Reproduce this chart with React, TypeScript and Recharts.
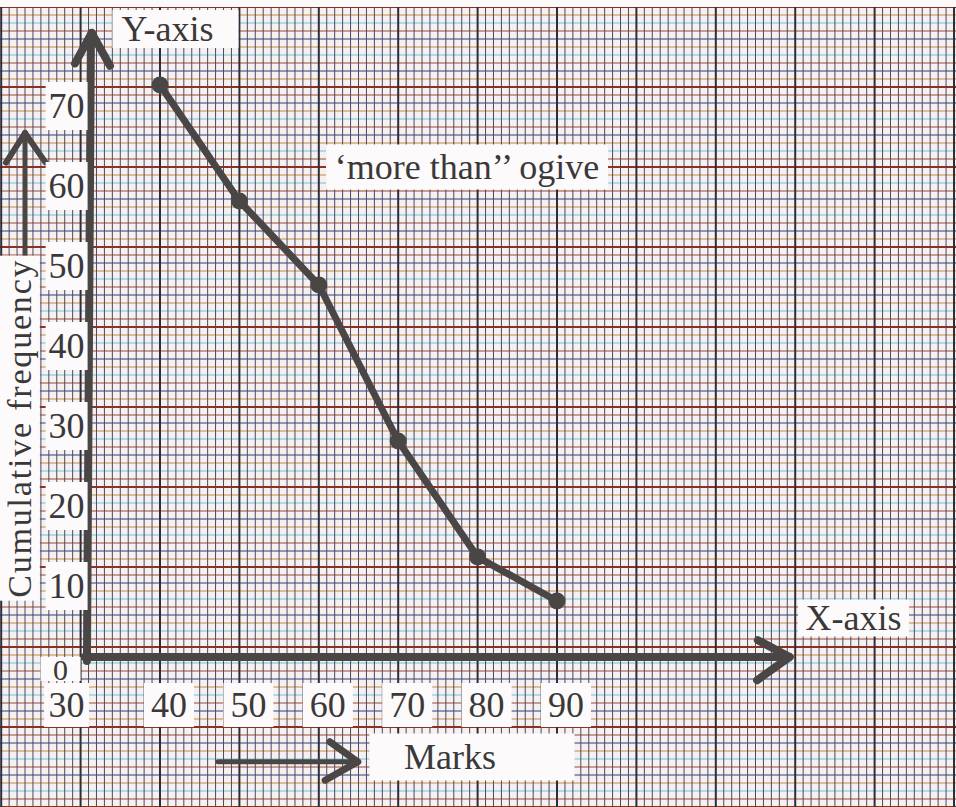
import React from "react";
import {
  LineChart, Line, XAxis, YAxis, CartesianGrid,
  ReferenceLine, ReferenceDot, ReferenceArea,
} from "recharts";

// "more than" ogive: marks (lower limit) vs cumulative frequency
const marks = [40, 50, 60, 70, 80, 90];
const cumFreq = [71.5, 57, 46.5, 27, 12.5, 7];
const xTickLabels = [30, 40, 50, 60, 70, 80, 90];
const yTickLabels = [10, 20, 30, 40, 50, 60, 70];

const data = marks.map((m, i) => ({ m, cf: cumFreq[i] }));

const W = 956;
const H = 807;
const X_DOMAIN: [number, number] = [19.85, 140.25];
const Y_DOMAIN: [number, number] = [-18.75, 82.125];
const PAPER_DOMAIN: [number, number] = [0, 100.875];

const FONT = "'Liberation Serif', 'DejaVu Serif', serif";
const INK = "#3a3838";
const PEN = "#4a4646";
const BOX = "#fcfafa";

const range = (a: number, b: number, step = 1) => {
  const out: number[] = [];
  for (let v = a; v <= b; v += step) out.push(v);
  return out;
};

// graph paper lines (paper units, not data)
const fineCols = range(20, 140).filter(v => v % 10 !== 0);
const majorCols = range(20, 140, 10);
const rowColors = ["#2f3d6e", "#9a4a30", "#6cc3d2", "#c8893e"];
const fineRows = rowColors.map((_, k) => range(0, 100).filter(v => v % 10 !== 0 && v % 4 === k));
const majorRows = range(0, 100, 10);

const scaleFn = (axis: any) => (v: number) => {
  const s = axis?.scale;
  if (!s) return NaN;
  if (typeof s === "function") return s(v);
  if (typeof s.map === "function") return s.map(v);
  return NaN;
};
const vGen = (values: number[]) => ({ xAxis }: any) => values.map(scaleFn(xAxis));
const hGen = (values: number[]) => ({ yAxis }: any) => values.map(scaleFn(yAxis));

// text annotations, in data units
const notes = [
  { text: "Y-axis", x: 40.94, y: 78.5, w: 126, h: 38, bx: 8, rot: false, size: 36, ls: 0 },
  { text: "\u2018more than\u2019\u2019 ogive", x: 78.67, y: 61.25, w: 282, h: 45, bx: 0, rot: false, size: 36, ls: 0 },
  { text: "X-axis", x: 127.34, y: 4.875, w: 111, h: 37, bx: 0, rot: false, size: 36, ls: 0 },
  { text: "Marks", x: 76.52, y: -12.5, w: 205, h: 47, bx: 22, rot: false, size: 36, ls: 0 },
  { text: "Cumulative frequency", x: 22.35, y: 28.6, w: 345, h: 40, bx: 0, rot: true, size: 34, ls: 1.8 },
];

// arrows, in data units
const arrows: { seg: [number, number][]; w: number }[] = [
  // Y axis
  { seg: [[30.8, -0.5], [31.3, 77.5]], w: 8 },
  { seg: [[29.3, 74.2], [31.4, 78]], w: 8 },
  { seg: [[33.7, 73.9], [31.4, 78]], w: 8 },
  // X axis
  { seg: [[30.5, 0], [119.1, 0]], w: 8 },
  { seg: [[115.3, 2.1], [119.3, 0]], w: 8 },
  { seg: [[115.2, -2.9], [119.3, 0]], w: 8 },
  // cumulative frequency arrow
  { seg: [[23.0, 50], [23.0, 65.3]], w: 5 },
  { seg: [[20.6, 61.8], [23.0, 65.5]], w: 6 },
  { seg: [[25.6, 61.8], [23.0, 65.5]], w: 6 },
  // marks arrow
  { seg: [[47.3, -13.1], [64.6, -13.1]], w: 5 },
  { seg: [[61.4, -10.6], [64.9, -13.1]], w: 7 },
  { seg: [[60.8, -15.4], [64.9, -13.1]], w: 7 },
];

function BoxText({ cx, cy, text, w, h, dx = 0, dy = 0, bx = 0, rot = false, size = 36, ls = 0 }: any) {
  const tx = cx + dx;
  const ty = cy + dy;
  return (
    <g transform={rot ? `rotate(-90, ${tx}, ${ty})` : undefined}>
      <rect x={tx + bx - w / 2} y={ty - h / 2} width={w} height={h} fill={BOX} />
      <text x={tx} y={ty} textAnchor="middle" dominantBaseline="central" letterSpacing={ls}
        fontFamily={FONT} fontSize={size} fill={INK}>{text}</text>
    </g>
  );
}

function Dot(p: any) {
  if (p.cx == null || p.cy == null) return <g key={p.index} />;
  return <circle key={p.index} cx={p.cx} cy={p.cy} r={8.5} fill={PEN} />;
}

export default function App() {
  return (
    <div style={{ position: "fixed", left: 0, top: 0, width: W, height: H, background: "#f6f0f1" }}>
      <LineChart width={W} height={H} data={data} margin={{ top: 0, right: 0, bottom: 0, left: 0 }}>
        <XAxis xAxisId="x" dataKey="m" type="number" domain={X_DOMAIN} allowDataOverflow hide />
        <YAxis yAxisId="y" type="number" domain={Y_DOMAIN} allowDataOverflow hide />
        <YAxis yAxisId="paper" type="number" domain={PAPER_DOMAIN} allowDataOverflow hide />

        {fineRows.map((rows, k) => (
          <CartesianGrid key={"r" + k} xAxisId="x" yAxisId="paper" vertical={false}
            horizontalCoordinatesGenerator={hGen(rows)} stroke={rowColors[k]} strokeWidth={1} />
        ))}
        <CartesianGrid xAxisId="x" yAxisId="paper" horizontal={false}
          verticalCoordinatesGenerator={vGen(fineCols)} stroke="#474b63" strokeWidth={1} />
        <CartesianGrid xAxisId="x" yAxisId="paper" vertical={false}
          horizontalCoordinatesGenerator={hGen(majorRows)} stroke="#8a3322" strokeWidth={2} />
        <CartesianGrid xAxisId="x" yAxisId="paper" horizontal={false}
          verticalCoordinatesGenerator={vGen(majorCols)} stroke="#2e2e3a" strokeWidth={2} />

        <ReferenceArea xAxisId="x" yAxisId="paper" y1={100} y2={PAPER_DOMAIN[1]}
          fill="#fbf9f9" fillOpacity={1} ifOverflow="visible" />

        {arrows.map((a, i) => (
          <ReferenceLine key={"a" + i} xAxisId="x" yAxisId="y"
            segment={[{ x: a.seg[0][0], y: a.seg[0][1] }, { x: a.seg[1][0], y: a.seg[1][1] }]}
            stroke={PEN} strokeWidth={a.w} strokeLinecap="round" ifOverflow="visible" />
        ))}

        {yTickLabels.map(v => (
          <ReferenceDot key={"y" + v} xAxisId="x" yAxisId="y" x={30} y={v} r={0}
            shape={(p: any) => <BoxText cx={p.cx} cy={p.cy} text={String(v)} w={42} h={48} dx={-14} dy={9} />} />
        ))}
        {xTickLabels.map(v => (
          <ReferenceDot key={"x" + v} xAxisId="x" yAxisId="y" x={v} y={0} r={0}
            shape={(p: any) => <BoxText cx={p.cx} cy={p.cy} text={String(v)} w={v === 30 ? 45 : 50} h={44}
              dx={v === 30 ? -14 : 9} dy={48} />} />
        ))}
        <ReferenceDot xAxisId="x" yAxisId="y" x={30} y={0} r={0}
          shape={(p: any) => <BoxText cx={p.cx} cy={p.cy} text="0" w={40} h={24} dx={-20} dy={12} size={30} />} />

        {notes.map(n => (
          <ReferenceDot key={n.text} xAxisId="x" yAxisId="y" x={n.x} y={n.y} r={0}
            shape={(p: any) => <BoxText cx={p.cx} cy={p.cy} text={n.text} w={n.w} h={n.h} bx={n.bx}
              rot={n.rot} size={n.size} ls={n.ls} />} />
        ))}

        <Line xAxisId="x" yAxisId="y" dataKey="cf" type="linear" stroke={PEN} strokeWidth={7}
          dot={Dot} activeDot={false} isAnimationActive={false} />
      </LineChart>
    </div>
  );
}
